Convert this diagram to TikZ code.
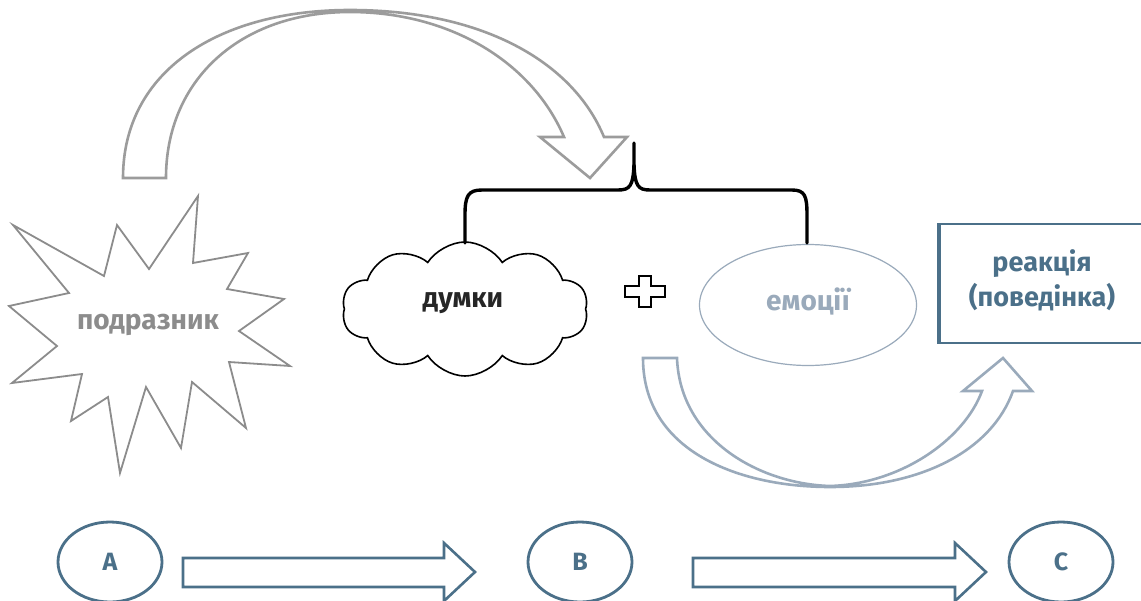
\documentclass[tikz,border=0pt]{standalone}
\usepackage{fontspec}
\setmainfont{Fira Sans}
\usetikzlibrary{shapes.symbols,shapes.geometric}
\definecolor{stargray}{HTML}{8C8C8C}
\definecolor{arcgray}{HTML}{9C9C9C}
\definecolor{mist}{HTML}{9AAABB}
\definecolor{slate}{HTML}{4B7089}
\tikzset{
  lbl/.style={font=\fontsize{28}{30}\selectfont\bfseries},
  bigarrow/.style={line width=2.6pt, fill=white, line join=miter},
  abc/.style={ellipse, draw=slate, line width=2.8pt, minimum width=104pt, minimum height=80pt,
              text=slate, font=\fontsize{25}{26}\selectfont\bfseries},
}
\begin{document}
\begin{tikzpicture}[x=1pt,y=-1pt]
\useasboundingbox (0,0) rectangle (1141,600);
\fill[white] (0,0) rectangle (1141,600);

% stimulus: starburst
\draw[stargray, line width=1.8pt, line join=miter, fill=white]
  (13,225) -- (104,276) -- (117,225) -- (149,269) -- (198,196) -- (193,263)
  -- (248,253) -- (227,289) -- (284,299) -- (239,331) -- (290,366) -- (229,362)
  -- (246,428) -- (192,382) -- (181,448) -- (146,387) -- (120,473) -- (108,397)
  -- (71,421) -- (82,374) -- (12,383) -- (57,346) -- (9,306) -- (69,293) -- cycle;
\node[lbl, text=stargray] (stim) at (148,325) {подразник};

% arc arrow from stimulus to thoughts/emotions
\draw[bigarrow, draw=arcgray]
  (123,178) .. controls (123,70) and (220,10) .. (350,10)
  .. controls (480,10) and (572,60) .. (604,137)
  -- (627,137) -- (590,178) -- (540,137) -- (564,137)
  .. controls (532,62) and (450,12) .. (350,12)
  .. controls (240,12) and (166,80) .. (166,178) -- cycle;

% thoughts cloud
\node[cloud, cloud puffs=10, cloud puff arc=115, aspect=1.9, draw=black, line width=1.6pt,
      minimum width=246pt, minimum height=134pt, inner sep=0pt, fill=white] (thoughts) at (465,309) {};
\node[lbl, text=black!85] (thoughtstxt) at (463,303) {думки};

% plus sign
\draw[black, line width=1.3pt, fill=white] (639,276) -- (651,276) -- (651,286) -- (665,286)
  -- (665,297) -- (651,297) -- (651,307) -- (639,307) -- (639,297) -- (625,297)
  -- (625,286) -- (639,286) -- cycle;

% emotions ellipse
\node[ellipse, draw=mist, line width=1.2pt, minimum width=217pt, minimum height=121pt] (emo) at (808,305) {};
\node[lbl, text=mist] (emotxt) at (808,301) {емоції};

% curly brace over thoughts and emotions
\coordinate (bl) at (465,243);
\coordinate (br) at (807,243);
\coordinate (btop) at (634,143);
\draw[black, line width=3.4pt, line cap=round]
  (bl) -- (465,215) .. controls (465,196) and (468,190) .. (482,190) -- (618,190)
  .. controls (630,190) and (633,186) .. (634,165) -- (btop);
\draw[black, line width=3.4pt, line cap=round]
  (634,165) .. controls (635,186) and (638,190) .. (650,190) -- (792,190)
  .. controls (805,190) and (807,196) .. (807,215) -- (br);

% reaction box
\draw[slate, line width=2pt] (1145,224) -- (939,224) -- (939,343) -- (1145,343);
\draw[slate, line width=3.5pt] (939,223) -- (939,344);
\node[text=slate, align=center, font=\fontsize{27}{35}\selectfont\bfseries] (react) at (1042,280) {реакція\\(поведінка)};

% arc arrow from emotions to reaction
\draw[bigarrow, draw=mist]
  (643,358) .. controls (643,452) and (740,487) .. (830,487)
  .. controls (922,487) and (992,450) .. (1013,391)
  -- (1032,391) -- (1003,358) -- (963,391) -- (982,391)
  .. controls (964,440) and (900,484) .. (830,486)
  .. controls (760,484) and (680,440) .. (677,358) -- cycle;

% A -> B -> C
\node[abc] (A) at (110,562) {A};
\node[abc] (B) at (580,562) {B};
\node[abc] (C) at (1061,562) {C};
\draw[bigarrow, draw=slate] (183,558) -- (444,558) -- (444,543) -- (475,572) -- (444,601)
  -- (444,587) -- (183,587) -- cycle;
\draw[bigarrow, draw=slate] (693,558) -- (955,558) -- (955,543) -- (986,572) -- (955,601)
  -- (955,587) -- (693,587) -- cycle;
\end{tikzpicture}
\end{document}
